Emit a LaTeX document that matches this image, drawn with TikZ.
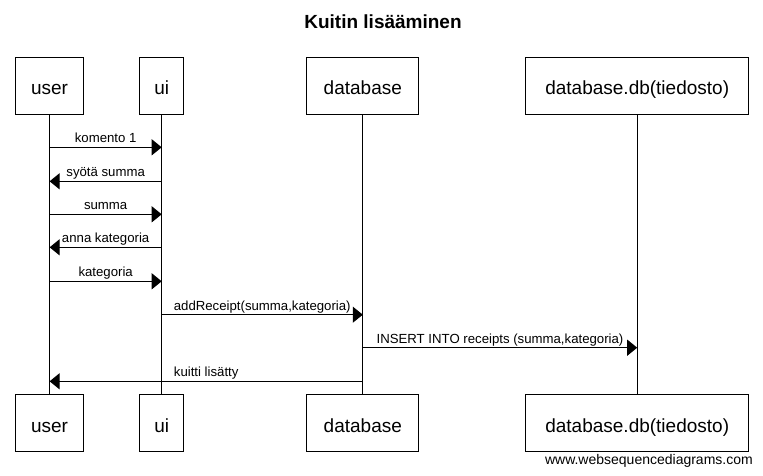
\documentclass[tikz,border=0pt]{standalone}
\usepackage{fontspec}
\setmainfont{Liberation Sans}
\usetikzlibrary{arrows.meta}
\begin{document}
\begin{tikzpicture}[x=1pt,y=-1pt,
  participant/.style={draw, line width=1pt, minimum height=57pt, inner sep=0pt, text height=18.6pt, text depth=0pt, font=\fontsize{19}{23}\selectfont},
  lifeline/.style={line width=1pt},
  msg/.style={line width=1pt, -{Triangle[length=10pt,width=16pt]}},
  lbl/.style={midway, anchor=base, yshift=4.5pt, inner sep=0pt, font=\fontsize{13.2}{15}\selectfont}]
\useasboundingbox (0,0) rectangle (763,476);
% title
\node[font=\bfseries\fontsize{19}{23}\selectfont] (title) at (383,22) {Kuitin lisääminen};
% participants top
\node[participant, minimum width=68pt] (user) at (49.6,85.7) {user};
\node[participant, minimum width=44pt] (ui) at (161.7,85.7) {ui};
\node[participant, minimum width=112pt] (db) at (362.8,85.7) {database};
\node[participant, minimum width=223pt] (file) at (637.2,85.7) {database.db(tiedosto)};
% participants bottom
\node[participant, minimum width=68pt] (userB) at (49.6,422.7) {user};
\node[participant, minimum width=44pt] (uiB) at (161.7,422.7) {ui};
\node[participant, minimum width=112pt] (dbB) at (362.8,422.7) {database};
\node[participant, minimum width=223pt] (fileB) at (637.2,422.7) {database.db(tiedosto)};
% lifelines
\draw[lifeline] (user) -- (userB);
\draw[lifeline] (ui) -- (uiB);
\draw[lifeline] (db) -- (dbB);
\draw[lifeline] (file) -- (fileB);
% message levels
\coordinate (y1) at (0,147.3);
\coordinate (y2) at (0,181.3);
\coordinate (y3) at (0,214.3);
\coordinate (y4) at (0,247.3);
\coordinate (y5) at (0,281.3);
\coordinate (y6) at (0,314.7);
\coordinate (y7) at (0,347.7);
\coordinate (y8) at (0,381.3);
% messages
\draw[msg] (user |- y1) -- node[lbl]{komento 1} (ui |- y1);
\draw[msg] (ui |- y2) -- node[lbl]{syötä summa} (user |- y2);
\draw[msg] (user |- y3) -- node[lbl]{summa} (ui |- y3);
\draw[msg] (ui |- y4) -- node[lbl]{anna kategoria} (user |- y4);
\draw[msg] (user |- y5) -- node[lbl]{kategoria} (ui |- y5);
\draw[msg] (ui |- y6) -- node[lbl]{addReceipt(summa,kategoria)} (db |- y6);
\draw[msg] (db |- y7) -- node[lbl]{INSERT INTO receipts (summa,kategoria)} (file |- y7);
\draw[msg] (db |- y8) -- node[lbl]{kuitti lisätty} (user |- y8);
% footer
\node[anchor=east, inner sep=0pt, font=\fontsize{14}{16}\selectfont] (footer) at (753,461) {www.websequencediagrams.com};
\end{tikzpicture}
\end{document}
